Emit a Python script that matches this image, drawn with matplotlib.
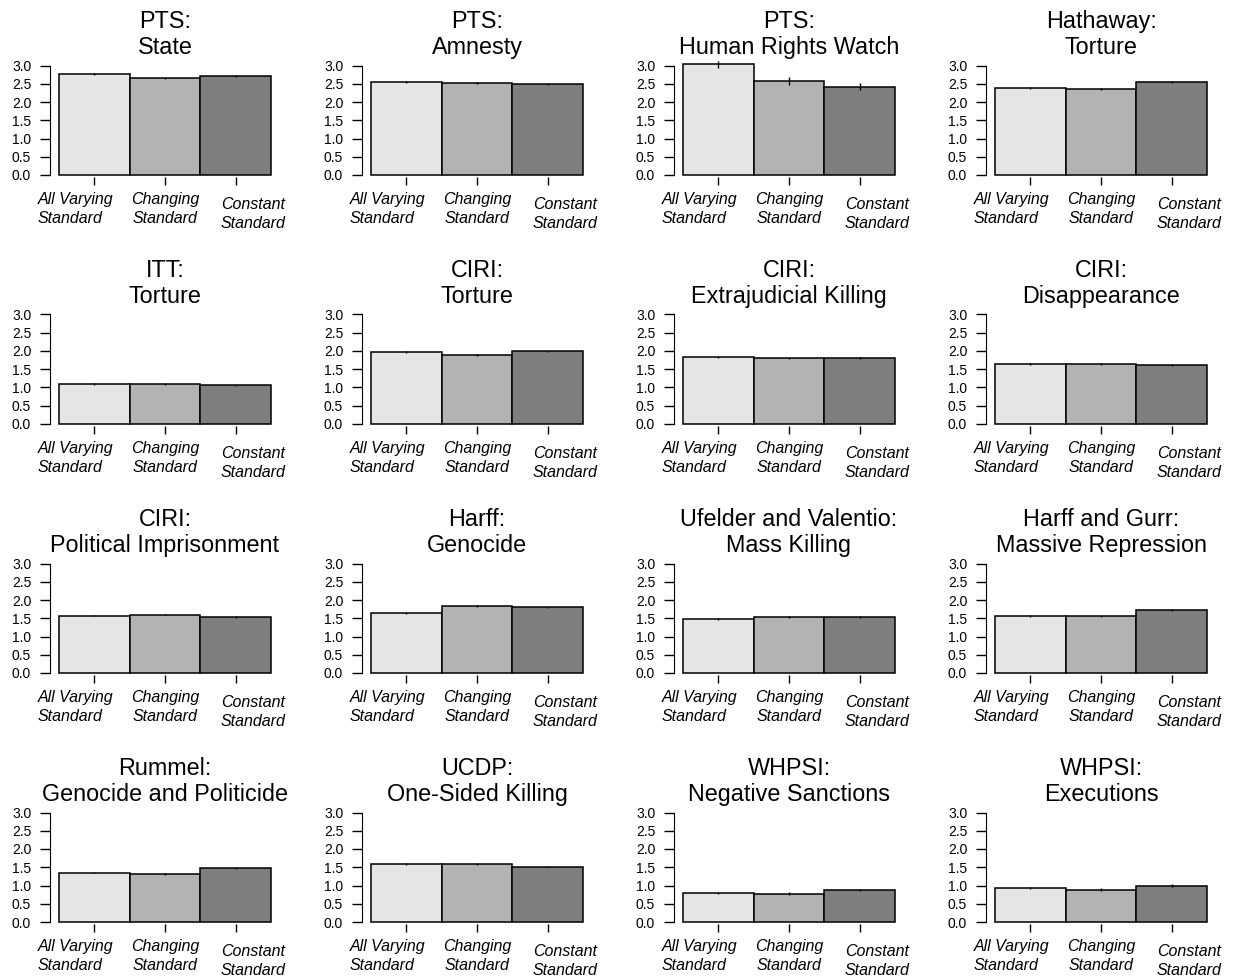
import matplotlib
matplotlib.use("Agg")
import matplotlib.pyplot as plt

plt.rcParams["font.family"] = ["Liberation Sans", "DejaVu Sans"]

# measure names (two-line titles) in panel order, row by row
titles = [
    "PTS:\nState", "PTS:\nAmnesty", "PTS:\nHuman Rights Watch", "Hathaway:\nTorture",
    "ITT:\nTorture", "CIRI:\nTorture", "CIRI:\nExtrajudicial Killing", "CIRI:\nDisappearance",
    "CIRI:\nPolitical Imprisonment", "Harff:\nGenocide", "Ufelder and Valentio:\nMass Killing",
    "Harff and Gurr:\nMassive Repression",
    "Rummel:\nGenocide and Politicide", "UCDP:\nOne-Sided Killing", "WHPSI:\nNegative Sanctions",
    "WHPSI:\nExecutions",
]

models = ["All Varying\nStandard", "Changing\nStandard", "Constant\nStandard"]

# mean estimates: all varying, changing, constant
all_varying = [2.77, 2.55, 3.03, 2.38,
               1.10, 1.98, 1.83, 1.65,
               1.57, 1.65, 1.48, 1.56,
               1.35, 1.60, 0.80, 0.94]
changing = [2.65, 2.52, 2.57, 2.36,
            1.09, 1.89, 1.80, 1.65,
            1.60, 1.83, 1.54, 1.55,
            1.32, 1.59, 0.78, 0.89]
constant = [2.72, 2.48, 2.42, 2.55,
            1.06, 1.99, 1.81, 1.62,
            1.54, 1.80, 1.53, 1.72,
            1.47, 1.52, 0.88, 1.00]

# half-widths of the intervals
err_all = [0.03, 0.03, 0.10, 0.03,
           0.02, 0.03, 0.02, 0.02,
           0.02, 0.03, 0.02, 0.02,
           0.02, 0.03, 0.03, 0.03]
err_chg = [0.02, 0.02, 0.11, 0.03,
           0.02, 0.02, 0.02, 0.02,
           0.02, 0.02, 0.02, 0.02,
           0.02, 0.02, 0.03, 0.03]
err_con = [0.03, 0.02, 0.10, 0.03,
           0.02, 0.02, 0.02, 0.02,
           0.02, 0.02, 0.02, 0.03,
           0.02, 0.02, 0.03, 0.03]

colors = ["#e5e5e5", "#b3b3b3", "#7f7f7f"]
yticks = [0.0, 0.5, 1.0, 1.5, 2.0, 2.5, 3.0]

# x label placement: (x in data units, alignment, offset below axis in points)
label_pos = [(-0.80, "left", -12.0), (1.0, "center", -12.0), (2.25, "center", -15.5)]

W, H = 1233, 976
fig = plt.figure(figsize=(W / 100, H / 100), dpi=100)

for i, title in enumerate(titles):
    r, c = divmod(i, 4)
    left = 59 + 312 * c
    base = 175 + 249 * r
    ax = fig.add_axes([left / W, 1 - base / H, 212 / W, 109.5 / H])

    vals = [all_varying[i], changing[i], constant[i]]
    errs = [err_all[i], err_chg[i], err_con[i]]
    x = [0, 1, 2]
    ax.bar(x, vals, width=1.0, color=colors, edgecolor="black", linewidth=1.1,
           clip_on=False)
    eb = ax.errorbar(x, vals, yerr=errs, fmt="none", ecolor="black", elinewidth=1,
                     capsize=0)
    for art in eb.lines[2]:
        art.set_clip_on(False)

    ax.set_xlim(-0.5, 2.5)
    ax.set_ylim(0, 3)
    ax.set_yticks(yticks)
    ax.set_yticklabels([f"{t:.1f}" for t in yticks], fontsize=11.5)

    for s in ["top", "right"]:
        ax.spines[s].set_visible(False)
    ax.spines["left"].set_position(("outward", 6.5))
    ax.spines["left"].set_bounds(0, 3)
    ax.spines["bottom"].set_position(("outward", 1.5))
    ax.spines["bottom"].set_visible(False)
    ax.tick_params(axis="y", length=7, width=1, pad=6.5)
    ax.tick_params(axis="x", length=6, width=1)

    ax.set_xticks(x)
    ax.set_xticklabels([])
    for name, (lx, ha, dy) in zip(models, label_pos):
        ax.annotate(name, xy=(lx, 0), xycoords=("data", "axes fraction"),
                    xytext=(0, dy), textcoords="offset points",
                    ha=ha, va="top", multialignment=ha, fontsize=11.5,
                    style="italic", linespacing=1.38, annotation_clip=False)

    ax.set_title(title, fontsize=16.8, pad=8, linespacing=1.2)

fig.savefig("out.png", dpi=100)
